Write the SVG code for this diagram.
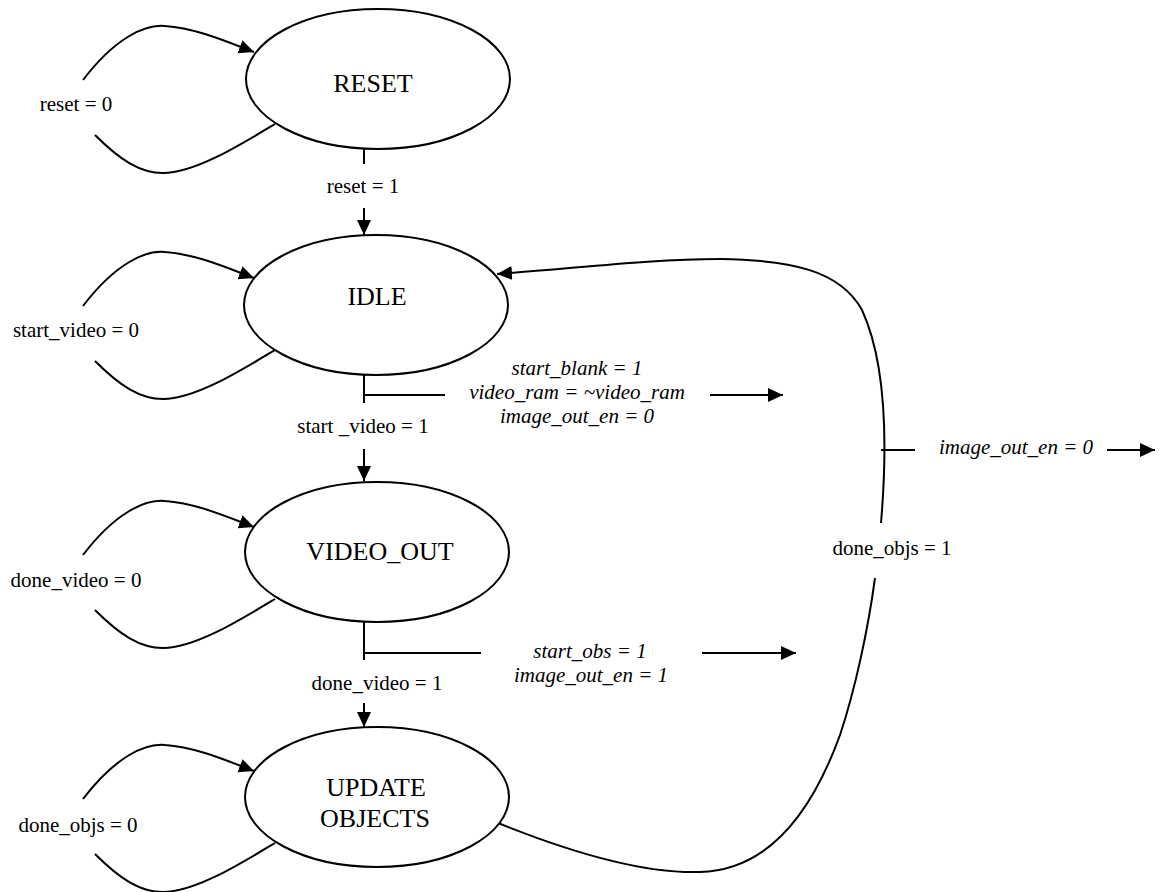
<svg xmlns="http://www.w3.org/2000/svg" width="1160" height="892" viewBox="0 0 1160 892">
<style>
.e{fill:#fff;stroke:#000;stroke-width:2}
.c{fill:none;stroke:#000;stroke-width:2}
.st{font-family:"Liberation Serif","Times New Roman",serif;font-size:26px;text-anchor:middle;fill:#000}
.lb{font-family:"Liberation Serif","Times New Roman",serif;font-size:21px;text-anchor:middle;fill:#000}
.it{font-style:italic}
</style>
<defs>
<marker id="ah" markerUnits="userSpaceOnUse" markerWidth="16" markerHeight="16" refX="15" refY="7" orient="auto">
<path d="M0,0 L15,7 L0,14 z" fill="#000"/>
</marker>
<g id="loop">
<path class="c" d="M83,80 C115,38 145,24 165,26 C195,28 225,41 254,52" marker-end="url(#ah)"/>
<path class="c" d="M95,135 C120,160 140,173 163,173 C195,173 240,145 275,124"/>
</g>
</defs>
<rect width="1160" height="892" fill="#fff"/>
<g id="connectors">
<use href="#loop"/>
<use href="#loop" transform="translate(0,226)"/>
<use href="#loop" transform="translate(0,475)"/>
<use href="#loop" transform="translate(0,719)"/>
<text class="lb" x="76" y="111">reset = 0</text>
<text class="lb" x="76" y="337">start_video = 0</text>
<text class="lb" x="76" y="587">done_video = 0</text>
<text class="lb" x="78" y="832">done_objs = 0</text>
<path class="c" d="M364,149 V164"/>
<text class="lb" x="363" y="193">reset = 1</text>
<path class="c" d="M364,208 V235" marker-end="url(#ah)"/>
<path class="c" d="M364,375 V403 M364,395 H445"/>
<text class="lb it" x="577" y="375">start_blank = 1</text>
<text class="lb it" x="577" y="399">video_ram = ~video_ram</text>
<text class="lb it" x="577" y="423">image_out_en = 0</text>
<path class="c" d="M710,395 H783" marker-end="url(#ah)"/>
<text class="lb" x="363" y="433">start _video = 1</text>
<path class="c" d="M364,449 V481" marker-end="url(#ah)"/>
<path class="c" d="M364,621 V660 M364,653 H481"/>
<text class="lb it" x="590" y="658">start_obs = 1</text>
<text class="lb it" x="591" y="682">image_out_en = 1</text>
<path class="c" d="M702,653 H796" marker-end="url(#ah)"/>
<text class="lb" x="377" y="690">done_video = 1</text>
<path class="c" d="M364,703 V727" marker-end="url(#ah)"/>
<path class="c" d="M498,823 C560,848 640,874 700,872 C780,870 820,790 840,735 C855,690 868,630 875,578"/>
<path class="c" d="M881,523 C888,440 885,360 862,310 C840,270 790,260 720,259 C650,259 580,268 497,274" marker-end="url(#ah)"/>
<text class="lb" x="892" y="555">done_objs = 1</text>
<path class="c" d="M881,450 H915"/>
<text class="lb it" x="1016" y="454">image_out_en = 0</text>
<path class="c" d="M1107,450 H1155" marker-end="url(#ah)"/>
</g>
<g id="RESET">
<ellipse class="e" cx="378" cy="79" rx="132" ry="70"/>
<text class="st" x="373" y="92">RESET</text>
</g>
<g id="IDLE">
<ellipse class="e" cx="376" cy="305" rx="132" ry="70"/>
<text class="st" x="377" y="305">IDLE</text>
</g>
<g id="VIDEO_OUT">
<ellipse class="e" cx="377" cy="552" rx="132" ry="70"/>
<text class="st" x="380" y="560">VIDEO_OUT</text>
</g>
<g id="UPDATE_OBJECTS">
<ellipse class="e" cx="377" cy="797" rx="132" ry="70"/>
<text class="st" x="376" y="796">UPDATE</text>
<text class="st" x="375" y="827">OBJECTS</text>
</g>
</svg>
